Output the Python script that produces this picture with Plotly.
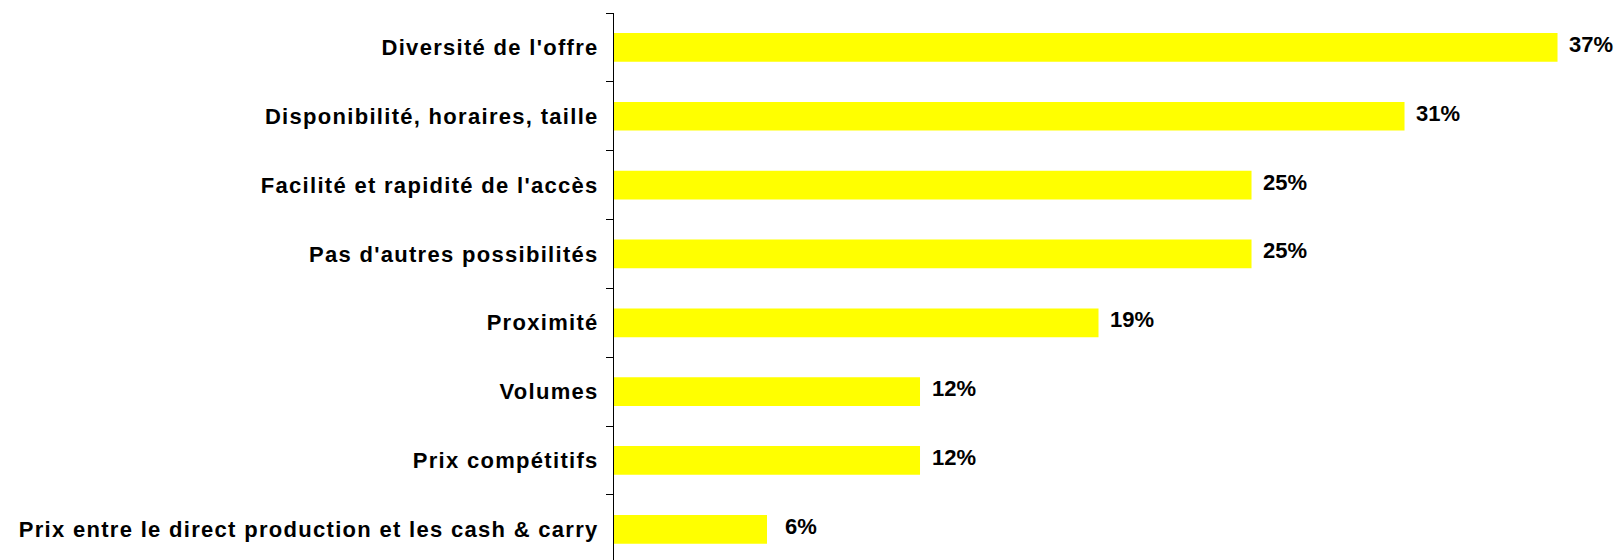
import plotly.graph_objects as go

# Reasons given, top to bottom, with share of respondents (%)
categories = [
    "Diversité de l'offre",
    "Disponibilité, horaires, taille",
    "Facilité et rapidité de l'accès",
    "Pas d'autres possibilités",
    "Proximité",
    "Volumes",
    "Prix compétitifs",
    "Prix entre le direct production et les cash & carry",
]
values = [37, 31, 25, 25, 19, 12, 12, 6]
value_labels = [f"{v}%" for v in values]

FONT = "Arial, 'Liberation Sans', sans-serif"
BAR_COLOR = "#FFFF00"

fig = go.Figure(
    go.Bar(
        x=values,
        y=categories,
        orientation="h",
        marker=dict(color=BAR_COLOR, line=dict(width=0)),
        hoverinfo="skip",
    )
)

# Percentage labels placed just past the end of each bar
for cat, val, lab in zip(categories, values, value_labels):
    fig.add_annotation(
        x=val, y=cat, text=lab, showarrow=False,
        xanchor="center", yanchor="middle",
        xshift=33.5, yshift=3,
        font=dict(family=FONT, size=22, color="#000000", weight="bold"),
    )

fig.update_layout(
    width=1620, height=560,
    margin=dict(l=614, r=0, t=13, b=0),
    paper_bgcolor="white", plot_bgcolor="white",
    bargap=0.583,
    showlegend=False,
)

fig.update_xaxes(
    range=[0, 39.45], visible=False, showgrid=False, zeroline=False,
)

fig.update_yaxes(
    type="category",
    categoryorder="array", categoryarray=categories,
    range=[7.446, -0.5],
    showline=True, linecolor="#000000", linewidth=1,
    ticks="outside", tickson="boundaries", ticklen=7, tickcolor="#000000", tickwidth=1,
    ticklabelstandoff=10,
    showgrid=False, zeroline=False,
    tickfont=dict(family=FONT, size=22, color="#000000", weight="bold"),
)

fig.write_html(
    "out.html",
    post_script="var s=document.createElement('style');"
                "s.textContent='.ytick text{letter-spacing:1.3px;}';"
                "document.head.appendChild(s);",
)
